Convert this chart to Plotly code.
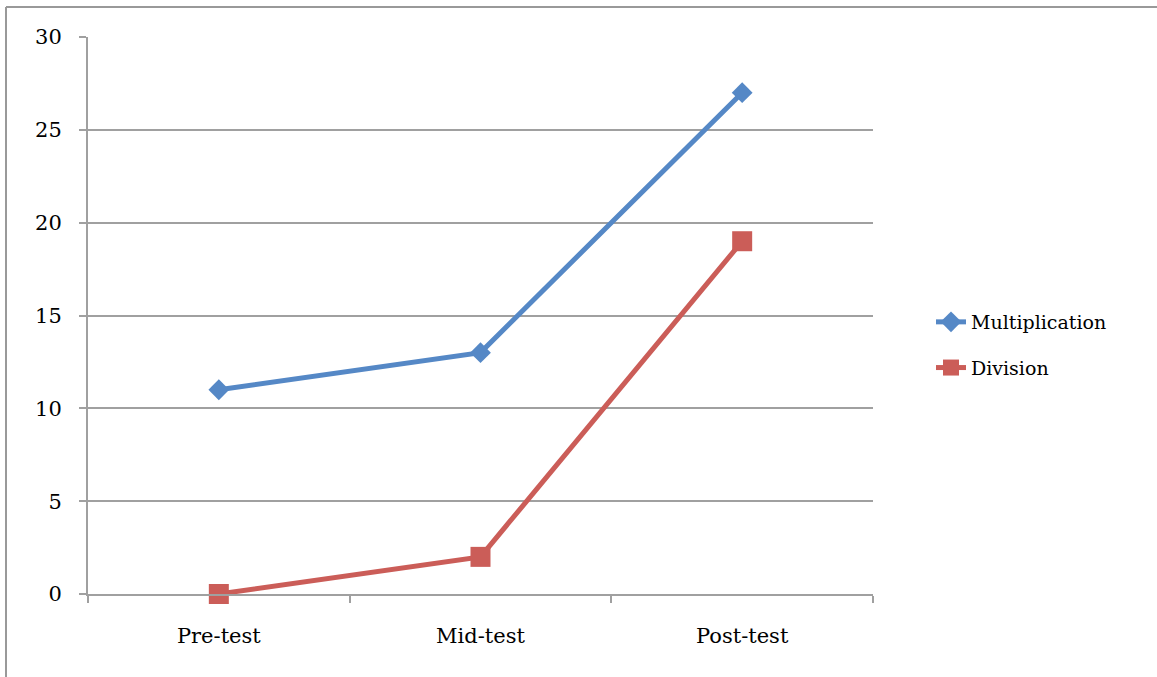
import plotly.graph_objects as go

categories = ["Pre-test", "Mid-test", "Post-test"]
multiplication = [11, 13, 27]
division = [0, 2, 19]
y_ticks = [0, 5, 10, 15, 20, 25, 30]

L, R, T, B = 88, 284, 37, 83
W, H = 1157, 677
pw, ph = W - L - R, H - T - B

fig = go.Figure()
fig.add_trace(go.Scatter(x=categories, y=multiplication, name="Multiplication",
                         mode="lines+markers", legendgroup="m", cliponaxis=False,
                         line=dict(color="#5588C6", width=5),
                         marker=dict(symbol="diamond", size=16, color="#5588C6")))
fig.add_trace(go.Scatter(x=categories, y=division, name="Division",
                         mode="lines+markers", legendgroup="d", cliponaxis=False,
                         line=dict(color="#CB5D58", width=5),
                         marker=dict(symbol="square", size=20, color="#CB5D58")))

grey = "#A0A0A0"
fig.update_layout(
    width=W, height=H,
    margin=dict(l=L, r=R, t=T, b=B, autoexpand=False),
    paper_bgcolor="white", plot_bgcolor="white",
    font=dict(family="DejaVu Serif, Liberation Serif, serif", size=21, color="black"),
    showlegend=True,
    legend=dict(x=(931 - L) / pw, y=(594 - 345) / ph, xanchor="left", yanchor="middle",
                font=dict(size=19), traceorder="grouped", tracegroupgap=18,
                bgcolor="rgba(0,0,0,0)"),
    xaxis=dict(type="category", tickson="boundaries", ticks="outside", ticklen=7,
               tickcolor=grey, tickwidth=2, showgrid=False, showline=True,
               linecolor=grey, linewidth=2, range=[-0.5, 2.5],
               ticklabelstandoff=22, zeroline=False),
    yaxis=dict(range=[0, 30], tickvals=y_ticks, ticks="outside", ticklen=7,
               tickcolor=grey, tickwidth=2, showgrid=True, gridcolor=grey, gridwidth=2,
               showline=True, linecolor=grey, linewidth=2, zeroline=False,
               ticklabelstandoff=13),
    shapes=[
        dict(type="line", xref="paper", yref="paper",
             x0=(6 - L) / pw, x1=(6 - L) / pw, y0=(594 - 700) / ph, y1=(594 - 7) / ph,
             line=dict(color="#999999", width=2)),
        dict(type="line", xref="paper", yref="paper",
             x0=(6 - L) / pw, x1=(1200 - L) / pw, y0=(594 - 7) / ph, y1=(594 - 7) / ph,
             line=dict(color="#999999", width=2)),
    ],
)

fig.write_html("out.html", config={"displayModeBar": False},
               post_script="document.body.style.margin='0';")
